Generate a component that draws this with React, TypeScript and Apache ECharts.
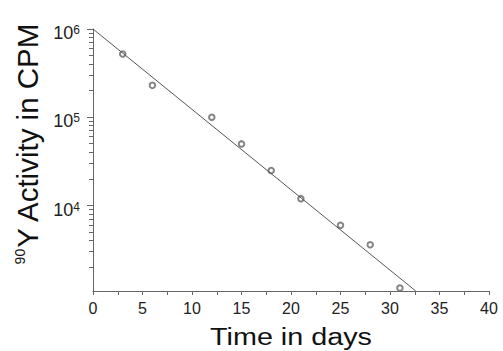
import React, { useEffect, useRef } from "react";
import * as echarts from "echarts";

const dayValues = [3, 6, 12, 15, 18, 21, 25, 28, 31];
const activityValues = [520000, 230000, 100000, 50000, 25000, 12000, 6000, 3600, 1170];
const fitDays = [0, 32.6];
const fitActivity = [1000000, 1080];
const xTickValues = [0, 5, 10, 15, 20, 25, 30, 35, 40];
const yMajorTicks = [10000, 100000, 1000000];
const yMinorTicks = [
  2000, 3000, 4000, 5000, 6000, 7000, 8000, 9000,
  20000, 30000, 40000, 50000, 60000, 70000, 80000, 90000,
  200000, 300000, 400000, 500000, 600000, 700000, 800000, 900000,
];

const FONT = '"Liberation Sans", Arial, Helvetica, sans-serif';

export default function App() {
  const ref = useRef<HTMLDivElement>(null);
  useEffect(() => {
    if (!ref.current) return;
    const chart = echarts.init(ref.current, null, { renderer: "svg" });
    chart.setOption({
      animation: false,
      backgroundColor: "#fff",
      grid: { left: 93, right: 14, top: 29, bottom: 60 },
      xAxis: {
        type: "value",
        min: xTickValues[0],
        max: xTickValues[xTickValues.length - 1],
        interval: 5,
        axisLine: { show: true, lineStyle: { color: "#666", width: 1 } },
        axisTick: { show: true, inside: false, length: 4, lineStyle: { color: "#666" } },
        minorTick: { show: true, splitNumber: 2, length: 4, lineStyle: { color: "#666" } },
        splitLine: { show: false },
        axisLabel: { color: "#222", fontSize: 16, fontFamily: FONT, margin: 9 },
      },
      yAxis: {
        type: "log",
        logBase: 10,
        min: 1080,
        max: 1000000,
        axisLine: { show: true, lineStyle: { color: "#666", width: 1 } },
        axisTick: { show: false },
        minorTick: { show: false },
        splitLine: { show: false },
        axisLabel: {
          margin: 13,
          padding: [8, 0, 0, 0],
          formatter: (v: number) => {
            const e = Math.log10(v);
            const r = Math.round(e);
            if (Math.abs(e - r) > 0.01 || r < 4) return "";
            return "{b|10}{s|" + r + "}";
          },
          rich: {
            b: { fontSize: 18, lineHeight: 18, fontFamily: FONT, color: "#222", verticalAlign: "bottom" },
            s: { fontSize: 12, lineHeight: 4, fontFamily: FONT, color: "#222", verticalAlign: "top" },
          },
        },
      },
      graphic: [
        {
          type: "text",
          x: 291,
          y: 337,
          scaleX: 1.25,
          style: {
            text: "Time in days",
            fontSize: 23,
            fontFamily: FONT,
            fill: "#111",
            align: "center",
            verticalAlign: "middle",
          },
        },
        {
          type: "text",
          x: 28,
          y: 143.5,
          rotation: Math.PI / 2,
          style: {
            text: "{s|90}{m|Y Activity in CPM}",
            align: "center",
            verticalAlign: "middle",
            rich: {
              s: { fontSize: 14, lineHeight: 9, fontFamily: FONT, fill: "#111", verticalAlign: "top" },
              m: { fontSize: 29.5, lineHeight: 29.5, fontFamily: FONT, fill: "#111", verticalAlign: "bottom" },
            },
          },
        },
      ],
      series: [
        {
          type: "custom",
          clip: false,
          silent: true,
          z: 10,
          data: [...yMajorTicks.map((v) => [0, v, 1]), ...yMinorTicks.map((v) => [0, v, 0])],
          renderItem: (params: any, api: any) => {
            const p = api.coord([api.value(0), api.value(1)]);
            const major = api.value(2) === 1;
            const len = major ? 6 : 4;
            return {
              type: "rect",
              shape: { x: p[0] - len, y: Math.floor(p[1]), width: len, height: 1 },
              style: { fill: "#666" },
            };
          },
        },
        {
          type: "line",
          data: fitDays.map((d, i) => [d, fitActivity[i]]),
          symbol: "none",
          lineStyle: { color: "#555", width: 1 },
          silent: true,
        },
        {
          type: "scatter",
          data: dayValues.map((d, i) => [d, activityValues[i]]),
          symbol: "emptyCircle",
          symbolSize: 5.5,
          itemStyle: { color: "#666", borderWidth: 0.8 },
          silent: true,
        },
      ],
    });
    return () => chart.dispose();
  }, []);
  return (
    <div
      ref={ref}
      style={{ position: "fixed", left: 0, top: 0, width: 503, height: 351 }}
    />
  );
}
